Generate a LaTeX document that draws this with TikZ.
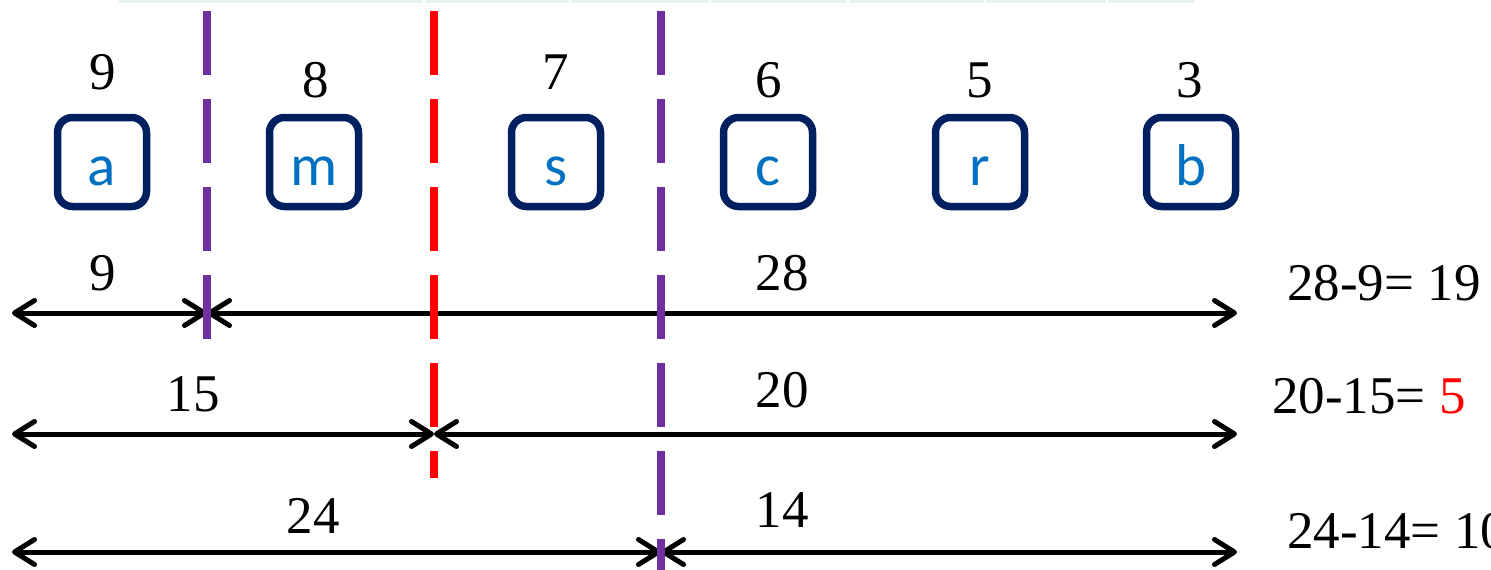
\documentclass[tikz,border=0pt]{standalone}
\usepackage{fontspec}
\setmainfont{Liberation Serif}
\newfontfamily\boxfont{Carlito}
\usetikzlibrary{arrows.meta}
\definecolor{navy}{HTML}{002060}
\definecolor{lblue}{HTML}{0070C0}
\definecolor{vio}{HTML}{7030A0}
\definecolor{tline}{HTML}{E6F2F3}
\begin{document}
\begin{tikzpicture}[x=1pt,y=-1pt,
  letterbox/.style={draw=navy,line width=7.5pt,rounded corners=15pt,minimum width=89pt,minimum height=89pt,inner sep=0pt},
  letter/.style={anchor=base,inner sep=0pt,text=lblue,font=\boxfont\fontsize{59}{62}\selectfont},
  num/.style={anchor=base,inner sep=0pt,font=\fontsize{53}{60}\selectfont},
  eq/.style={anchor=base west,inner sep=0pt,font=\fontsize{53}{60}\selectfont},
  arr/.style={line width=5pt,{Straight Barb[length=20pt,width=25pt,round]}-{Straight Barb[length=20pt,width=25pt,round]}},
  cutline/.style={line width=8pt,dash pattern=on 64pt off 24pt}]
\useasboundingbox (0,0) rectangle (1491,570);
% faint top table border
\foreach \a/\b in {119/423,425/569,571/709,711/847,849/984,986/1106,1108/1195}
  \fill[tline] (\a,0) rectangle (\b,3);
% boxes
\foreach \n/\x in {a/102,m/314,s/556,c/768,r/980,b/1191}{
  \node[letterbox] (box\n) at (\x,162) {};
  \node[letter] (l\n) at (\x,185) {\n};
}
% numbers above boxes
\node[num] (n9) at (103,89) {9};
\node[num] (n8) at (316,97) {8};
\node[num] (n7) at (556,89) {7};
\node[num] (n6) at (769,97) {6};
\node[num] (n5) at (980,97) {5};
\node[num] (n3) at (1190,97) {3};
% arrow end points
\coordinate (L1) at (12,313);  \coordinate (M1) at (207,313); \coordinate (R1) at (1237,313);
\coordinate (L2) at (12,434);  \coordinate (M2) at (434,434); \coordinate (R2) at (1237,434);
\coordinate (L3) at (12,552);  \coordinate (M3) at (661,552); \coordinate (R3) at (1237,552);
\draw[arr] (L1) -- (M1);
\draw[arr] (M1) -- (R1);
\draw[arr] (L2) -- (M2);
\draw[arr] (M2) -- (R2);
\draw[arr] (L3) -- (M3);
\draw[arr] (M3) -- (R3);
% arrow labels
\node[num] (a9) at (103,290) {9};
\node[num] (a28) at (782,290) {28};
\node[num] (a15) at (193,411) {15};
\node[num] (a20) at (782,407) {20};
\node[num] (a24) at (313,533) {24};
\node[num] (a14) at (782,527) {14};
% results
\node[eq] (e1) at (1287,300) {28-9= 19};
\node[eq] (e2) at (1272,413) {20-15= \textcolor{red}{5}};
\node[eq] (e3) at (1287,548) {24-14= 10};
% dashed cut lines
\coordinate (P1t) at (207,11); \coordinate (P1b) at (207,339);
\coordinate (Rt) at (434,11);  \coordinate (Rb) at (434,478);
\coordinate (P2t) at (661,11); \coordinate (P2b) at (661,575);
\draw[cutline,vio] (P1t) -- (P1b);
\draw[cutline,red] (Rt) -- (Rb);
\draw[cutline,vio] (P2t) -- (P2b);
\end{tikzpicture}
\end{document}
